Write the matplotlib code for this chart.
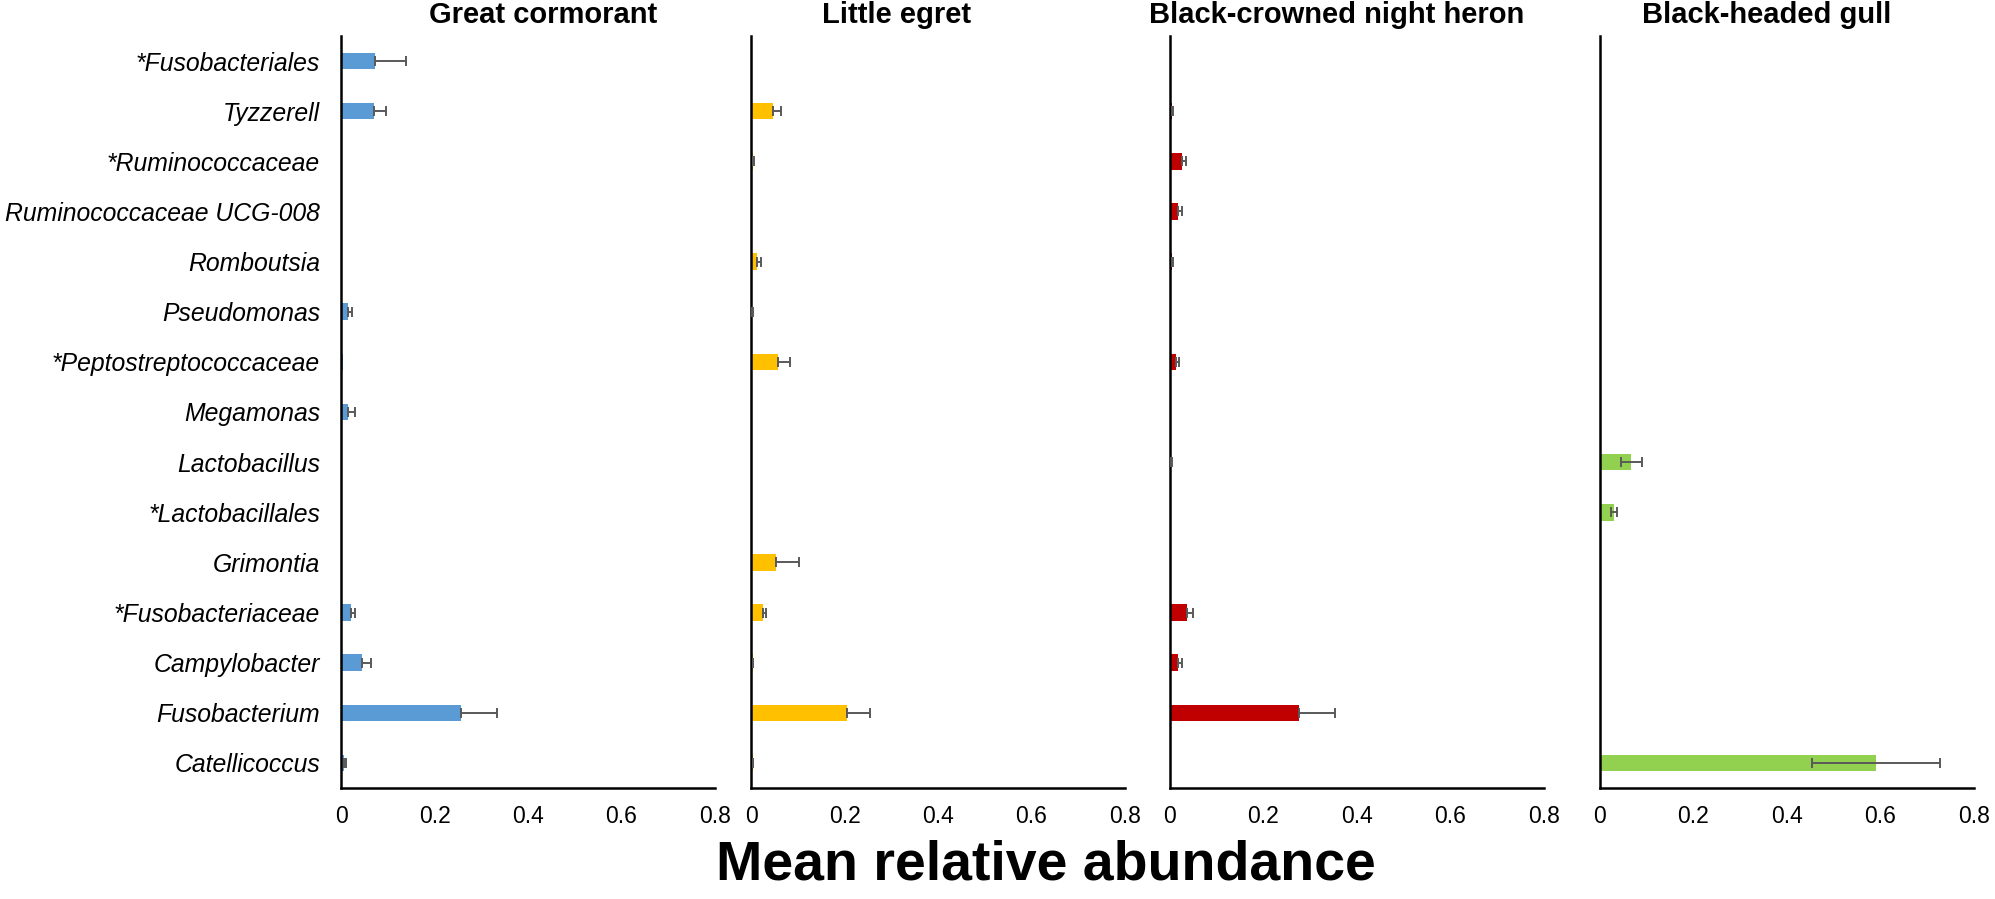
import numpy as np
import matplotlib.pyplot as plt

plt.rcParams['font.family'] = ['Liberation Sans', 'DejaVu Sans']

# taxa, listed from top to bottom as in the figure
taxa = ["*Fusobacteriales", "Tyzzerell", "*Ruminococcaceae", "Ruminococcaceae UCG-008",
        "Romboutsia", "Pseudomonas", "*Peptostreptococcaceae", "Megamonas",
        "Lactobacillus", "*Lactobacillales", "Grimontia", "*Fusobacteriaceae",
        "Campylobacter", "Fusobacterium", "Catellicoccus"]

birds = ["Great cormorant", "Little egret", "Black-crowned night heron", "Black-headed gull"]
colours = ["#5B9BD5", "#FFC000", "#C00000", "#92D050"]

cormorant_mean = [0.072, 0.070, 0.002, 0, 0, 0.014, 0.004, 0.015, 0, 0, 0, 0.021, 0.044, 0.257, 0.006]
cormorant_err = [0.067, 0.026, 0, 0, 0, 0.010, 0, 0.015, 0, 0, 0, 0.008, 0.021, 0.077, 0.005]
egret_mean = [0.001, 0.046, 0.005, 0.001, 0.013, 0.003, 0.058, 0.001, 0.001, 0.001, 0.054, 0.025, 0.004, 0.205, 0.004]
egret_err = [0, 0.018, 0.002, 0, 0.008, 0.001, 0.026, 0, 0, 0, 0.049, 0.007, 0.001, 0.049, 0.001]
heron_mean = [0.002, 0.004, 0.025, 0.017, 0.005, 0.002, 0.012, 0, 0.003, 0.002, 0, 0.037, 0.017, 0.277, 0.002]
heron_err = [0, 0.002, 0.010, 0.008, 0.001, 0, 0.007, 0, 0.001, 0, 0, 0.013, 0.008, 0.075, 0]
gull_mean = [0, 0, 0, 0, 0, 0, 0, 0, 0.067, 0.030, 0, 0, 0, 0, 0.591]
gull_err = [0, 0, 0, 0, 0, 0, 0, 0, 0.022, 0.007, 0, 0, 0, 0, 0.137]

means = [cormorant_mean, egret_mean, heron_mean, gull_mean]
errors = [cormorant_err, egret_err, heron_err, gull_err]
# gull panel shows error bars on both sides, the others only the plus side
both_sides = [False, False, False, True]

xticks = [0, 0.2, 0.4, 0.6, 0.8]
xtick_labels = ["0", "0.2", "0.4", "0.6", "0.8"]

W, H = 1995, 899
fig = plt.figure(figsize=(W / 100, H / 100), dpi=100)
lefts = [341, 751, 1170, 1600]
panel_w = 374
top_px, bottom_px = 36, 788
title_x = [543, 897, 1337, 1767]   # titles are not exactly centred on the panels
y = np.arange(len(taxa))

for i, bird in enumerate(birds):
    ax = fig.add_axes([lefts[i] / W, 1 - bottom_px / H, panel_w / W, (bottom_px - top_px) / H])
    m = np.array(means[i])
    e = np.array(errors[i])
    ax.barh(y, m, height=0.33, color=colours[i], zorder=2)
    mask = e > 0
    if both_sides[i]:
        xerr = e[mask]
    else:
        xerr = [np.zeros(mask.sum()), e[mask]]
    ax.errorbar(m[mask], y[mask], xerr=xerr, fmt='none', ecolor='#595959',
                elinewidth=1.4, capsize=3.5, capthick=1.4, zorder=3)

    ax.set_xlim(0, 0.8)
    ax.set_ylim(len(taxa) - 0.5, -0.5)
    ax.set_xticks(xticks)
    ax.set_xticklabels(xtick_labels, fontsize=16.5)
    ax.tick_params(axis='x', length=0, pad=12)
    ax.set_yticks(y)
    if i == 0:
        ax.set_yticklabels(taxa, fontsize=17.8, style='italic')
        ax.tick_params(axis='y', length=0, pad=15)
    else:
        ax.set_yticklabels([])
        ax.tick_params(axis='y', length=0)
    for side in ['top', 'right']:
        ax.spines[side].set_visible(False)
    for side in ['left', 'bottom']:
        ax.spines[side].set_linewidth(1.8)
        ax.spines[side].set_color('black')
    fig.text(title_x[i] / W, 1 - 23 / H, bird, ha='center', va='baseline',
             fontsize=21, fontweight='bold')

fig.text(1046 / W, 1 - 866 / H, "Mean relative abundance", ha='center', va='center',
         fontsize=40, fontweight='bold')

fig.savefig("out.png", dpi=100)
